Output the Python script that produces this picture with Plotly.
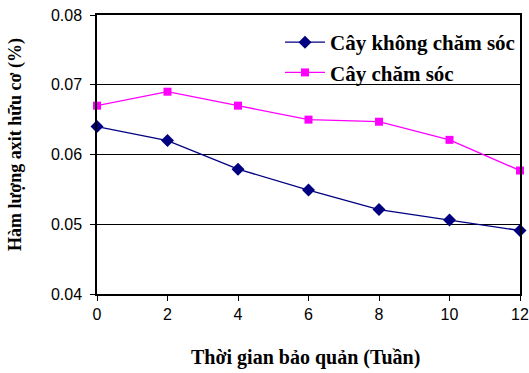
import plotly.graph_objects as go

weeks = [0, 2, 4, 6, 8, 10, 12]
khong_cham_soc = [0.0640, 0.0620, 0.0579, 0.0549, 0.0521, 0.0506, 0.0491]
cham_soc = [0.0670, 0.0690, 0.0670, 0.0650, 0.0647, 0.0621, 0.0577]
y_ticks = [0.04, 0.05, 0.06, 0.07, 0.08]
y_tick_labels = ["0.04", "0.05", "0.06", "0.07", "0.08"]

serif = "Liberation Serif, Times New Roman"

fig = go.Figure()
fig.add_trace(go.Scatter(
    x=weeks, y=khong_cham_soc, mode="lines+markers", name="Cây không chăm sóc",
    line=dict(color="#000080", width=1.3),
    marker=dict(symbol="diamond", size=10, color="#000080"),
    cliponaxis=False,
))
fig.add_trace(go.Scatter(
    x=weeks, y=cham_soc, mode="lines+markers", name="Cây chăm sóc",
    line=dict(color="#FF00FF", width=1.3),
    marker=dict(symbol="square", size=8, color="#FF00FF"),
    cliponaxis=False,
))

fig.update_layout(
    width=529, height=373,
    margin=dict(l=97, r=9, t=15, b=79, autoexpand=False),
    paper_bgcolor="white", plot_bgcolor="white",
    font=dict(family="Liberation Sans, Arial", size=16, color="black"),
    showlegend=True,
    legend=dict(
        x=1, xanchor="right", y=0.975, yanchor="top",
        bgcolor="rgba(255,255,255,0)",
        font=dict(family=serif, size=21, color="black", weight="bold"),
        tracegroupgap=0, itemwidth=40,
    ),
    xaxis=dict(
        range=[0, 12], tickvals=weeks, ticktext=[str(w) for w in weeks],
        showgrid=False, zeroline=False, automargin=False,
        showline=True, linecolor="black", linewidth=1.5, mirror=True,
        ticks="outside", ticklen=5, tickcolor="black",
    ),
    yaxis=dict(
        range=[0.04, 0.08], tickvals=y_ticks, ticktext=y_tick_labels,
        showgrid=True, gridcolor="black", gridwidth=1, zeroline=False, automargin=False,
        showline=True, linecolor="black", linewidth=1.5, mirror=True,
        ticks="outside", ticklen=5, tickcolor="black", ticklabelstandoff=5,
    ),
    annotations=[
        dict(text="<b>Thời gian bảo quản (Tuần)</b>", xref="paper", yref="paper",
             x=(305 - 97) / 423, y=-(357 - 294) / 279, xanchor="center", yanchor="middle",
             showarrow=False, font=dict(family=serif, size=20, color="black")),
        dict(text="<b>Hàm lượng axit hữu cơ (%)</b>", xref="paper", yref="paper",
             x=(15 - 97) / 423, y=1 - (145 - 15) / 279, xanchor="center", yanchor="middle",
             textangle=-90, showarrow=False, font=dict(family=serif, size=18, color="black")),
    ],
)

fig.write_html("out.html")
